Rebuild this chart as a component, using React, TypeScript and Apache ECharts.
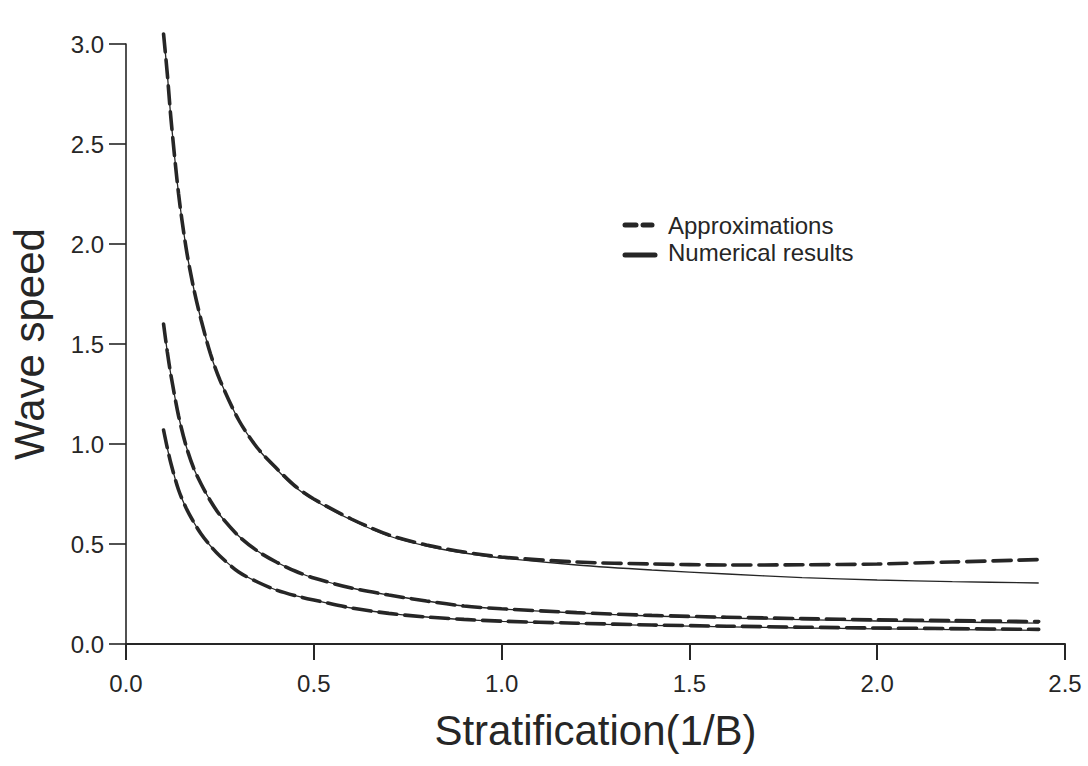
import React, { useEffect, useRef } from "react";
import * as echarts from "echarts";

const stratification = [0.1, 0.11, 0.12, 0.14, 0.16, 0.18, 0.2, 0.225, 0.25, 0.3, 0.35, 0.4, 0.45, 0.5, 0.6, 0.7, 0.8, 0.9, 1.0, 1.2, 1.4, 1.6, 1.8, 2.0, 2.2, 2.43];

const numericalTop = [3.05, 2.85, 2.62, 2.25, 1.98, 1.78, 1.62, 1.45, 1.32, 1.12, 0.98, 0.875, 0.785, 0.72, 0.62, 0.54, 0.49, 0.455, 0.43, 0.395, 0.37, 0.35, 0.332, 0.32, 0.312, 0.305];
const approxTop = [3.05, 2.85, 2.62, 2.25, 1.98, 1.78, 1.62, 1.45, 1.32, 1.12, 0.98, 0.88, 0.79, 0.725, 0.625, 0.545, 0.495, 0.46, 0.435, 0.41, 0.4, 0.395, 0.396, 0.4, 0.41, 0.422];

const numericalMid = [1.6, 1.46, 1.34, 1.14, 0.99, 0.88, 0.8, 0.715, 0.645, 0.54, 0.465, 0.41, 0.365, 0.33, 0.28, 0.245, 0.215, 0.19, 0.175, 0.155, 0.14, 0.13, 0.122, 0.115, 0.11, 0.104];
const approxMid = [1.6, 1.46, 1.34, 1.14, 0.99, 0.88, 0.8, 0.715, 0.645, 0.54, 0.465, 0.41, 0.365, 0.33, 0.28, 0.245, 0.215, 0.19, 0.176, 0.157, 0.143, 0.134, 0.127, 0.121, 0.117, 0.112];

const numericalLow = [1.07, 0.98, 0.9, 0.77, 0.68, 0.61, 0.55, 0.49, 0.44, 0.36, 0.31, 0.27, 0.242, 0.22, 0.18, 0.153, 0.135, 0.122, 0.113, 0.102, 0.093, 0.086, 0.08, 0.076, 0.072, 0.068];
const approxLow = [1.07, 0.98, 0.9, 0.77, 0.68, 0.61, 0.55, 0.49, 0.44, 0.36, 0.31, 0.27, 0.242, 0.22, 0.18, 0.153, 0.135, 0.123, 0.114, 0.104, 0.095, 0.089, 0.084, 0.08, 0.077, 0.073];

const xTicks = { min: 0, max: 2.5, interval: 0.5 };
const yTicks = { min: 0, max: 3.0, interval: 0.5 };

const legendLabels = ["Approximations", "Numerical results"];
const xName = "Stratification(1/B)";
const yName = "Wave speed";

const FONT = '"Liberation Sans", Arial, Helvetica, sans-serif';
const INK = "#262626";

const pairs = (ys: number[]) => stratification.map((x, i) => [x, ys[i]]);

export default function App() {
  const ref = useRef<HTMLDivElement>(null);
  useEffect(() => {
    if (!ref.current) return;
    const chart = echarts.init(ref.current, null, { renderer: "svg" });
    const solid = (name: string, ys: number[]) => ({
      type: "line",
      name,
      data: pairs(ys),
      smooth: 0.3,
      showSymbol: false,
      clip: false,
      lineStyle: { color: INK, width: 1.3, type: "solid" },
      z: 2,
    });
    const dashed = (name: string, ys: number[]) => ({
      type: "line",
      name,
      data: pairs(ys),
      smooth: 0.3,
      showSymbol: false,
      clip: false,
      lineStyle: { color: INK, width: 3.6, type: [18, 8], cap: "round" },
      z: 3,
    });
    chart.setOption({
      animation: false,
      backgroundColor: "#ffffff",
      grid: { left: 125, right: 23, top: 44, bottom: 122, containLabel: false },
      xAxis: {
        type: "value",
        min: xTicks.min,
        max: xTicks.max,
        interval: xTicks.interval,
        name: xName,
        nameLocation: "middle",
        nameGap: 65,
        nameTextStyle: { fontFamily: FONT, fontSize: 42, color: INK },
        axisLine: { show: true, onZero: false, lineStyle: { color: INK, width: 2 } },
        axisTick: { show: true, length: 16, lineStyle: { color: INK, width: 2 } },
        axisLabel: {
          margin: 27,
          fontFamily: FONT,
          fontSize: 24,
          color: INK,
          formatter: (v: number) => v.toFixed(1),
        },
        splitLine: { show: false },
      },
      yAxis: {
        type: "value",
        min: yTicks.min,
        max: yTicks.max,
        interval: yTicks.interval,
        name: yName,
        nameLocation: "middle",
        nameGap: 76,
        nameRotate: 90,
        nameTextStyle: { fontFamily: FONT, fontSize: 42, color: INK },
        axisLine: { show: true, onZero: false, lineStyle: { color: INK, width: 1.6 } },
        axisTick: { show: true, length: 17, lineStyle: { color: INK, width: 1.6 } },
        axisLabel: {
          margin: 22,
          fontFamily: FONT,
          fontSize: 24,
          color: INK,
          formatter: (v: number) => v.toFixed(1),
        },
        splitLine: { show: false },
      },
      series: [
        solid(legendLabels[1], numericalTop),
        solid(legendLabels[1], numericalMid),
        solid(legendLabels[1], numericalLow),
        dashed(legendLabels[0], approxTop),
        dashed(legendLabels[0], approxMid),
        dashed(legendLabels[0], approxLow),
      ],
      graphic: [
        { type: "line", shape: { x1: 625, y1: 225, x2: 636, y2: 225 }, style: { stroke: INK, lineWidth: 5, lineCap: "round" } },
        { type: "line", shape: { x1: 643, y1: 225, x2: 652, y2: 225 }, style: { stroke: INK, lineWidth: 5, lineCap: "round" } },
        { type: "line", shape: { x1: 625, y1: 255, x2: 655, y2: 255 }, style: { stroke: INK, lineWidth: 5, lineCap: "round" } },
        {
          type: "text",
          x: 668,
          y: 225,
          style: { text: legendLabels[0], font: `24px ${FONT}`, fill: INK, textAlign: "left", textVerticalAlign: "middle" },
        },
        {
          type: "text",
          x: 668,
          y: 252,
          style: { text: legendLabels[1], font: `24px ${FONT}`, fill: INK, textAlign: "left", textVerticalAlign: "middle" },
        },
      ],
    });
    return () => chart.dispose();
  }, []);
  return (
    <div
      ref={ref}
      style={{ position: "fixed", left: 0, top: 0, width: 1088, height: 766, background: "#fff" }}
    />
  );
}
